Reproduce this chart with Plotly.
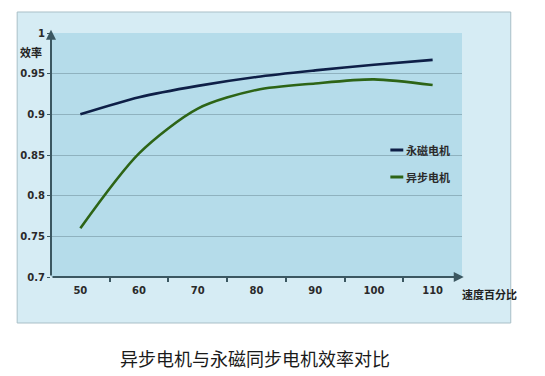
import plotly.graph_objects as go

speed = [50, 60, 70, 80, 90, 100, 110]
pm_motor = [0.900, 0.921, 0.935, 0.946, 0.954, 0.961, 0.967]
async_motor = [0.760, 0.852, 0.907, 0.930, 0.938, 0.943, 0.936]
y_ticks = [0.7, 0.75, 0.8, 0.85, 0.9, 0.95, 1.0]
y_labels = ["0.7", "0.75", "0.8", "0.85", "0.9", "0.95", "1"]
names = ["永磁电机", "异步电机"]
colors = ["#0e1f47", "#2d6416"]

OFF = 8  # default page body margin
W, H = 545 - OFF, 376 - OFF
L, R, T, B = 49 - OFF, 83, 33 - OFF, 99
pw, ph = W - L - R, H - T - B

def px_x(v):
    return (v - OFF - L) / pw

def px_y(v):
    return (H - B - (v - OFF)) / ph

fig = go.Figure()
for name, vals, c in zip(names, [pm_motor, async_motor], colors):
    fig.add_trace(go.Scatter(x=speed, y=vals, name=name, mode="lines",
                             line=dict(color=c, width=2.6, shape="spline", smoothing=0.8),
                             showlegend=False))

shapes = [
    dict(type="rect", xref="paper", yref="paper", x0=px_x(15), x1=px_x(511),
         y0=px_y(323), y1=px_y(12), fillcolor="#d6ecf4",
         line=dict(color="#a9bfc7", width=1), layer="below"),
    dict(type="rect", xref="paper", yref="paper", x0=0, x1=1, y0=0, y1=1,
         fillcolor="#b5dcea", line=dict(width=0), layer="below"),
]
# manual legend
leg_y = [150, 177]
annotations = []
for name, c, yy in zip(names, colors, leg_y):
    shapes.append(dict(type="line", xref="paper", yref="paper",
                       x0=px_x(390), x1=px_x(403), y0=px_y(yy), y1=px_y(yy),
                       line=dict(color=c, width=3)))
    annotations.append(dict(xref="paper", yref="paper", x=px_x(404), y=px_y(yy),
                            text=name, showarrow=False, xanchor="left", yanchor="middle",
                            font=dict(family="Noto Sans CJK SC", size=11, color="#2a2a2a", weight="bold")))

# axis arrows
annotations.append(dict(x=115.3, y=0.7, ax=45, ay=0.7, xref="x", yref="y", axref="x", ayref="y",
                        showarrow=True, arrowhead=2, arrowsize=1, arrowwidth=2, arrowcolor="#3b5761", text=""))
annotations.append(dict(x=45, y=1.004, ax=45, ay=0.7, xref="x", yref="y", axref="x", ayref="y",
                        showarrow=True, arrowhead=2, arrowsize=1, arrowwidth=2, arrowcolor="#3b5761", text=""))
# axis titles
annotations.append(dict(xref="paper", yref="paper", x=px_x(29), y=px_y(52), text="效率",
                        showarrow=False, xanchor="center", yanchor="middle",
                        font=dict(family="Noto Sans CJK SC", size=11, color="#222", weight="bold")))
annotations.append(dict(xref="paper", yref="paper", x=px_x(490), y=px_y(294), text="速度百分比",
                        showarrow=False, xanchor="center", yanchor="middle",
                        font=dict(family="Noto Sans CJK SC", size=11, color="#222", weight="bold")))
# caption
annotations.append(dict(xref="paper", yref="paper", x=px_x(254), y=px_y(358),
                        text="异步电机与永磁同步电机效率对比", showarrow=False,
                        xanchor="center", yanchor="middle",
                        font=dict(family="Noto Sans CJK SC", size=18, color="#1a1a1a")))

fig.update_layout(
    width=W, height=H, margin=dict(l=L, r=R, t=T, b=B),
    paper_bgcolor="white", plot_bgcolor="rgba(0,0,0,0)",
    shapes=shapes, annotations=annotations,
    xaxis=dict(range=[45, 115], tickvals=speed, ticktext=[str(s) for s in speed],
               showgrid=False, zeroline=False, showline=False, ticks="",
               tickfont=dict(family="DejaVu Sans", size=10, color="#2a2a2a", weight="bold"),
               minor=dict(tickvals=[55, 65, 75, 85, 95, 105], ticks="outside", ticklen=4,
                          tickcolor="#3b5761", tickwidth=2, showgrid=False),
               ticklabelstandoff=6),
    yaxis=dict(range=[0.7, 1.0], tickvals=y_ticks, ticktext=y_labels,
               showgrid=True, gridcolor="#8fb2bf", gridwidth=1, zeroline=False, showline=False,
               ticks="outside", ticklen=3, tickcolor="#3b5761", tickwidth=1,
               tickfont=dict(family="DejaVu Sans", size=10, color="#2a2a2a", weight="bold")),
)

fig.write_html("out.html")
